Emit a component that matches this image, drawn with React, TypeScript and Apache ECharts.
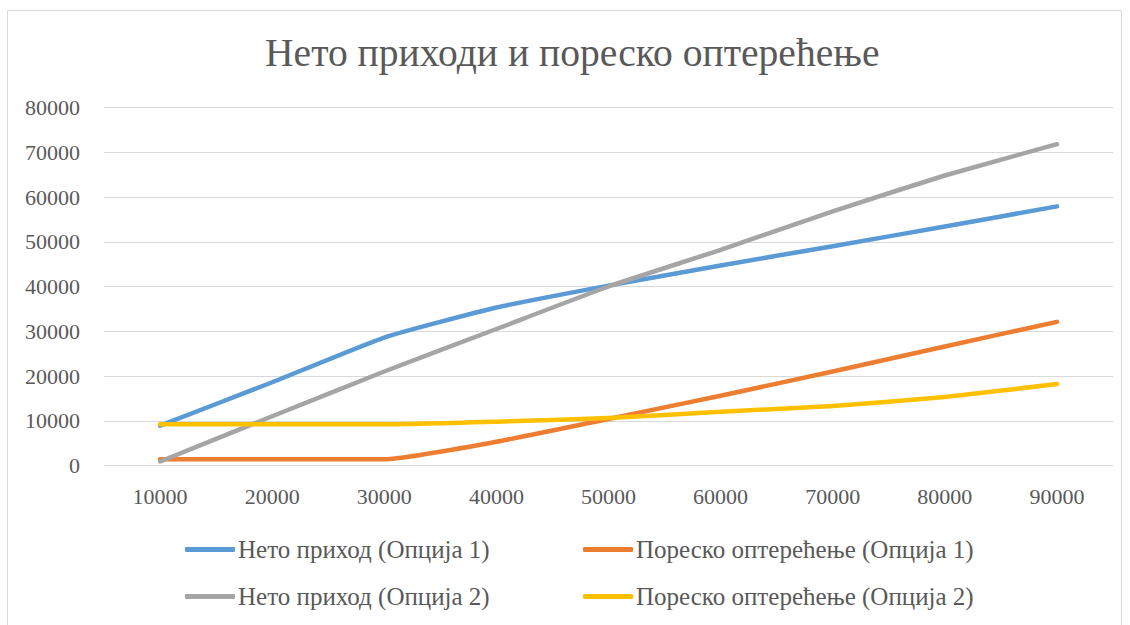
import React, { useEffect, useRef } from "react";
import * as echarts from "echarts";

const categories = ["10000", "20000", "30000", "40000", "50000", "60000", "70000", "80000", "90000"];
const netIncome1 = [8900, 18600, 28600, 35300, 40200, 44700, 49000, 53400, 57900];
const taxBurden1 = [1400, 1400, 1400, 5300, 10400, 15600, 21000, 26600, 32100];
const netIncome2 = [900, 11000, 21000, 30500, 40000, 48200, 56800, 64800, 71800];
const taxBurden2 = [9200, 9200, 9200, 9800, 10600, 12000, 13300, 15300, 18200];

const seriesNames = [
  "Нето приход (Опција 1)",
  "Пореско оптерећење (Опција 1)",
  "Нето приход (Опција 2)",
  "Пореско оптерећење (Опција 2)",
];
const colors = ["#5b9bd5", "#ed7d31", "#a5a5a5", "#ffc000"];
const title = "Нето приходи и пореско оптерећење";

const FONT = "'Liberation Serif', serif";
const TEXT = "#595959";

export default function App() {
  const ref = useRef<HTMLDivElement>(null);
  useEffect(() => {
    if (!ref.current) return;
    const chart = echarts.init(ref.current, undefined, { renderer: "svg" });
    const dataSets = [netIncome1, taxBurden1, netIncome2, taxBurden2];
    const legendPos = [
      { left: 185, top: 537 },
      { left: 583, top: 537 },
      { left: 185, top: 584 },
      { left: 583, top: 584 },
    ];
    chart.setOption({
      animation: false,
      backgroundColor: "#ffffff",
      title: {
        text: title,
        left: 265,
        top: 33,
        padding: 0,
        textStyle: { fontFamily: FONT, fontSize: 39.6, fontWeight: "normal", color: TEXT },
      },
      legend: legendPos.map((p, i) => ({
        data: [seriesNames[i]],
        left: p.left,
        top: p.top,
        padding: 0,
        icon: "roundRect",
        itemWidth: 50,
        itemHeight: 5,
        textStyle: { fontFamily: FONT, fontSize: 25, color: TEXT, padding: [0, 0, 0, -2] },
      })),
      grid: { left: 104, right: 17, top: 107.5, bottom: 159.5 },
      xAxis: {
        type: "category",
        data: categories,
        boundaryGap: true,
        axisLine: { show: true, lineStyle: { color: "#d9d9d9", width: 1 } },
        axisTick: { show: false },
        axisLabel: { fontFamily: FONT, fontSize: 22, color: TEXT, margin: 20 },
      },
      yAxis: {
        type: "value",
        min: 0,
        max: 80000,
        interval: 10000,
        axisLine: { show: false },
        axisTick: { show: false },
        splitLine: { lineStyle: { color: "#d9d9d9", width: 1 } },
        axisLabel: {
          fontFamily: FONT,
          fontSize: 22,
          color: TEXT,
          margin: 24,
          formatter: (v: number) => String(v),
        },
      },
      series: dataSets.map((d, i) => ({
        name: seriesNames[i],
        type: "line",
        data: d,
        symbol: "none",
        smooth: 0.15,
        color: colors[i],
        lineStyle: { width: 4.5, color: colors[i], cap: "round", join: "round" },
      })),
      graphic: [
        {
          type: "rect",
          shape: { x: 7.5, y: 10.5, width: 1114, height: 700 },
          style: { fill: "none", stroke: "#d9d9d9", lineWidth: 1 },
          silent: true,
        },
      ],
    });
    return () => chart.dispose();
  }, []);
  return (
    <div
      ref={ref}
      style={{ position: "fixed", left: 0, top: 0, width: 1130, height: 625 }}
    />
  );
}
